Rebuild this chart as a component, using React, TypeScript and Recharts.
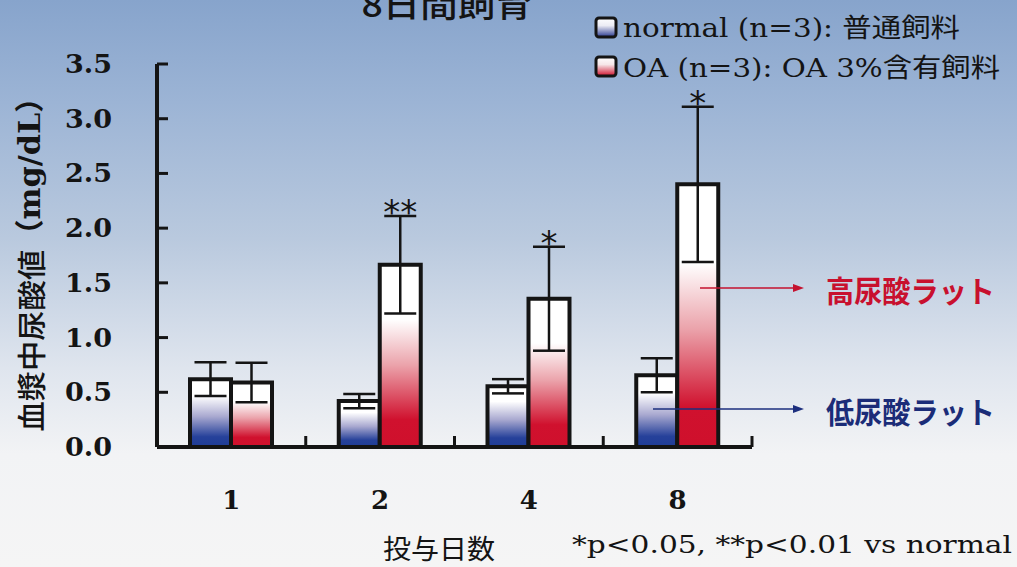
import { BarChart, Bar, XAxis, YAxis, ErrorBar, LabelList } from 'recharts';

// 投与日数ごとの血漿中尿酸値 (mean ± SD)
const days = ['1', '2', '4', '8'];
const normalMean = [0.62, 0.42, 0.555, 0.655];
const normalSd = [0.155, 0.065, 0.065, 0.155];
const oaMean = [0.59, 1.665, 1.355, 2.4];
const oaSd = [0.18, 0.445, 0.475, 0.71];
const oaMarks = ['', '**', '*', '*'];
const yTicks = [0, 0.5, 1, 1.5, 2, 2.5, 3, 3.5];

const data = days.map((day, i) => ({
  day,
  normal: normalMean[i],
  normalSd: normalSd[i],
  oa: oaMean[i],
  oaSd: oaSd[i],
  mark: oaMarks[i],
}));

const serif = '"DejaVu Serif", "Noto Sans CJK JP", serif';
const cjk = '"Noto Sans CJK JP", sans-serif';
const ink = '#141414';

function DayTick(props: any) {
  const { x, y, payload } = props;
  const half = payload?.offset ?? 0;
  return (
    <g>
      <line x1={x + half} x2={x + half} y1={y} y2={y - 11} stroke={ink} strokeWidth={3} />
      <text
        x={x}
        y={y + 53}
        textAnchor="middle"
        dominantBaseline="central"
        fontFamily={serif}
        fontWeight="bold"
        fontSize={26}
        fill={ink}
      >
        {payload.value}
      </text>
    </g>
  );
}

function ValueTick(props: any) {
  const { x, y, payload } = props;
  return (
    <g>
      <line x1={x} x2={x + 11} y1={y} y2={y} stroke={ink} strokeWidth={3} />
      <text
        x={x - 45}
        y={y}
        textAnchor="end"
        dominantBaseline="central"
        fontFamily={serif}
        fontWeight="bold"
        fontSize={26}
        textLength={47}
        lengthAdjust="spacingAndGlyphs"
        fill={ink}
      >
        {Number(payload.value).toFixed(1)}
      </text>
    </g>
  );
}

function StarLabel(props: any) {
  const { index, value } = props;
  const box = props.viewBox ?? props;
  const { x, y, width, height } = box;
  if (!value) return null;
  const perUnit = height / oaMean[index];
  const errTop = y - oaSd[index] * perUnit;
  return (
    <text
      x={x + width / 2}
      y={errTop + 8}
      textAnchor="middle"
      fontFamily='"DejaVu Sans", sans-serif'
      fontSize={34}
      fill={ink}
    >
      {value}
    </text>
  );
}

export default function App() {
  return (
    <div
      style={{
        position: 'absolute',
        left: 0,
        top: 0,
        width: 1017,
        height: 567,
        overflow: 'hidden',
        background:
          'linear-gradient(to bottom, #87a4cc 0%, #9cb4d5 18%, #b9c9de 42%, #dfe5ee 65%, #f2f3f5 80%, #f5f5f5 100%)',
      }}
    >
      <svg width={0} height={0} style={{ position: 'absolute' }}>
        <defs>
          <linearGradient id="gNormal" x1="0" y1="0" x2="0" y2="1">
            <stop offset="0" stopColor="#ffffff" />
            <stop offset="0.25" stopColor="#ffffff" />
            <stop offset="0.55" stopColor="#a9a9d0" />
            <stop offset="0.85" stopColor="#26419a" />
            <stop offset="1" stopColor="#1f3c96" />
          </linearGradient>
          <linearGradient id="gOa" x1="0" y1="0" x2="0" y2="1">
            <stop offset="0" stopColor="#ffffff" />
            <stop offset="0.3" stopColor="#ffffff" />
            <stop offset="0.55" stopColor="#eba3ab" />
            <stop offset="0.85" stopColor="#d0112e" />
            <stop offset="1" stopColor="#cf102c" />
          </linearGradient>
          <linearGradient id="gLegN" x1="0" y1="0" x2="0" y2="1">
            <stop offset="0" stopColor="#ffffff" />
            <stop offset="0.4" stopColor="#ececf4" />
            <stop offset="1" stopColor="#2a3a90" />
          </linearGradient>
          <linearGradient id="gLegO" x1="0" y1="0" x2="0" y2="1">
            <stop offset="0" stopColor="#ffffff" />
            <stop offset="0.4" stopColor="#f6e6e8" />
            <stop offset="1" stopColor="#cf102c" />
          </linearGradient>
        </defs>
      </svg>

      <BarChart
        width={1017}
        height={567}
        data={data}
        barGap={0}
        margin={{ top: 64, right: 265, bottom: 60, left: 67 }}
        style={{ position: 'absolute', left: 0, top: 0 }}
      >
        <XAxis
          dataKey="day"
          height={60}
          tickSize={0}
          tickMargin={0}
          tickLine={false}
          axisLine={{ stroke: ink, strokeWidth: 4 }}
          tick={<DayTick />}
        />
        <YAxis
          width={90}
          domain={[0, 3.5]}
          ticks={yTicks}
          interval={0}
          tickSize={0}
          tickMargin={0}
          tickLine={false}
          axisLine={{ stroke: ink, strokeWidth: 4 }}
          tick={<ValueTick />}
        />
        <Bar
          dataKey="normal"
          fill="url(#gNormal)"
          stroke={ink}
          strokeWidth={4}
          barSize={41}
          isAnimationActive={false}
        >
          <ErrorBar dataKey="normalSd" width={16} stroke={ink} strokeWidth={2.5} direction="y" />
        </Bar>
        <Bar
          dataKey="oa"
          fill="url(#gOa)"
          stroke={ink}
          strokeWidth={4}
          barSize={41}
          isAnimationActive={false}
        >
          <ErrorBar dataKey="oaSd" width={16} stroke={ink} strokeWidth={2.5} direction="y" />
          <LabelList dataKey="mark" content={(p: any) => <StarLabel {...p} />} />
        </Bar>
      </BarChart>

      <svg
        width={1017}
        height={567}
        style={{ position: 'absolute', left: 0, top: 0, pointerEvents: 'none' }}
      >
        {/* title, cut at the top edge as in the source */}
        <text
          x={447}
          y={17}
          textAnchor="middle"
          fontFamily={cjk}
          fontWeight={500}
          fontSize={34}
          textLength={171}
          lengthAdjust="spacingAndGlyphs"
          fill={ink}
        >
          8日間飼育
        </text>

        {/* legend */}
        <rect x={596} y={18} width={20} height={19} rx={3} fill="url(#gLegN)" stroke={ink} strokeWidth={3} />
        <text
          x={623}
          y={28}
          dominantBaseline="central"
          fontFamily={serif}
          fontSize={26}
          textLength={337}
          lengthAdjust="spacingAndGlyphs"
          fill={ink}
        >
          normal (n=3): 普通飼料
        </text>
        <rect x={596} y={57} width={20} height={19} rx={3} fill="url(#gLegO)" stroke={ink} strokeWidth={3} />
        <text
          x={623}
          y={68}
          dominantBaseline="central"
          fontFamily={serif}
          fontSize={26}
          textLength={377}
          lengthAdjust="spacingAndGlyphs"
          fill={ink}
        >
          OA (n=3): OA 3%含有飼料
        </text>

        {/* y axis title */}
        <text
          x={0}
          y={0}
          transform="translate(30 257) rotate(-90)"
          textAnchor="middle"
          dominantBaseline="central"
          fontSize={29}
          textLength={349}
          lengthAdjust="spacingAndGlyphs"
          fill={ink}
        >
          <tspan fontFamily={cjk} fontWeight={500}>血漿中尿酸値</tspan>
          <tspan fontFamily={serif} fontWeight="bold">（mg/dL）</tspan>
        </text>

        {/* x axis title and footnote */}
        <text
          x={383}
          y={547}
          dominantBaseline="central"
          fontFamily={cjk}
          fontSize={27}
          textLength={112}
          lengthAdjust="spacingAndGlyphs"
          fill={ink}
        >
          投与日数
        </text>
        <text
          x={572}
          y={545}
          dominantBaseline="central"
          fontFamily={serif}
          fontSize={24}
          textLength={440}
          lengthAdjust="spacingAndGlyphs"
          fill={ink}
        >
          *p&lt;0.05, **p&lt;0.01  vs normal
        </text>

        {/* callouts */}
        <line x1={700} x2={796} y1={288} y2={288} stroke="#c4122f" strokeWidth={1.5} />
        <polygon points="804,288 793,284 793,292" fill="#c4122f" />
        <text
          x={826}
          y={289}
          dominantBaseline="central"
          fontFamily={cjk}
          fontWeight="bold"
          fontSize={30}
          textLength={169}
          lengthAdjust="spacingAndGlyphs"
          fill="#c8102e"
        >
          高尿酸ラット
        </text>
        <line x1={653} x2={796} y1={409} y2={409} stroke="#1d2f7e" strokeWidth={1.5} />
        <polygon points="804,409 793,405 793,413" fill="#1d2f7e" />
        <text
          x={826}
          y={410}
          dominantBaseline="central"
          fontFamily={cjk}
          fontWeight="bold"
          fontSize={30}
          textLength={169}
          lengthAdjust="spacingAndGlyphs"
          fill="#1b2c78"
        >
          低尿酸ラット
        </text>
      </svg>
    </div>
  );
}
